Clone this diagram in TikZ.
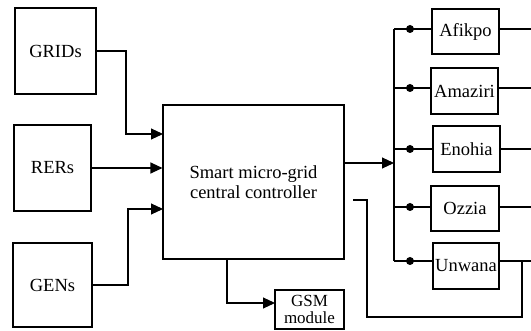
\documentclass[tikz,border=0pt]{standalone}
\usepackage{fontspec}
\setmainfont{Liberation Serif}
\usetikzlibrary{arrows.meta}
\begin{document}
\begin{tikzpicture}[
  x=1pt, y=-1pt, font=\fontsize{18.5}{20}\selectfont,
  box/.style={draw=black,line width=1.1pt,fill=white,align=center,inner sep=0pt},
  arr/.style={-{Triangle[length=12pt,width=11pt]},line width=1.1pt,black},
  link/.style={line width=1.1pt,black},
  hub/.style={circle,fill=black,inner sep=0pt,minimum size=8pt}]
\useasboundingbox (0,0) rectangle (531,331);

\node[box,minimum width=81pt,minimum height=86pt] (grids) at ( 55.5, 51) {GRIDs};
\node[box,minimum width=77pt,minimum height=86pt] (rers)  at ( 52.5,168) {RERs};
\node[box,minimum width=79pt,minimum height=84pt] (gens)  at ( 52.5,285) {GENs};

\node[box,minimum width=181pt,minimum height=154pt] (ctrl) at (253.5,182) {Smart micro-grid\\central controller};
\node[box,minimum width=69pt,minimum height=39pt,font=\fontsize{17}{17.5}\selectfont] (gsm) at (309.5,309.5) {GSM\\module};

\coordinate (in1) at (163,134);
\coordinate (in3) at (163,209);
\draw[arr] (grids.east) -- (126,51) |- (in1);
\draw[arr] (rers.east) -- (rers.east -| ctrl.west);
\draw[arr] (gens.east) -- (128,285) |- (in3);

\coordinate (out) at (227,259);
\coordinate (gin) at (275,303);
\draw[arr] (out) |- (gin);

\node[box,minimum width=67pt,minimum height=45pt] (afikpo)  at (465.5, 31.5) {Afikpo};
\node[box,minimum width=67pt,minimum height=46pt] (amaziri) at (464.5, 91)   {Amaziri};
\node[box,minimum width=67pt,minimum height=46pt] (enohia)  at (466.5,149)   {Enohia};
\node[box,minimum width=68pt,minimum height=45pt] (ozzia)   at (465,  208.5) {Ozzia};
\node[box,minimum width=66pt,minimum height=46pt] (unwana)  at (466,  266)   {Unwana};

% bus to the feeders
\coordinate (b1) at (394, 29);
\coordinate (b2) at (394, 88);
\coordinate (b3) at (394,149);
\coordinate (b4) at (394,207);
\coordinate (b5) at (394,261);
\draw[arr] (ctrl.east |- 0,163) -- (394,163);
\draw[link] (b1) -- (b5);
\foreach \b/\f in {b1/afikpo,b2/amaziri,b3/enohia,b4/ozzia,b5/unwana}{
  \draw[link] (\b) -- (\f.west |- \b);
  \node[hub] at ([xshift=16pt]\b) {};
  \draw[link] (\f.east |- \b) -- (531,0 |- \b);
}

% feedback from Unwana
\coordinate (fbs) at (353,200);
\coordinate (fbe) at (522,261);
\draw[link] (fbs) -- (367,200) -- (367,317) -- (522,317) -- (fbe);
\end{tikzpicture}
\end{document}
